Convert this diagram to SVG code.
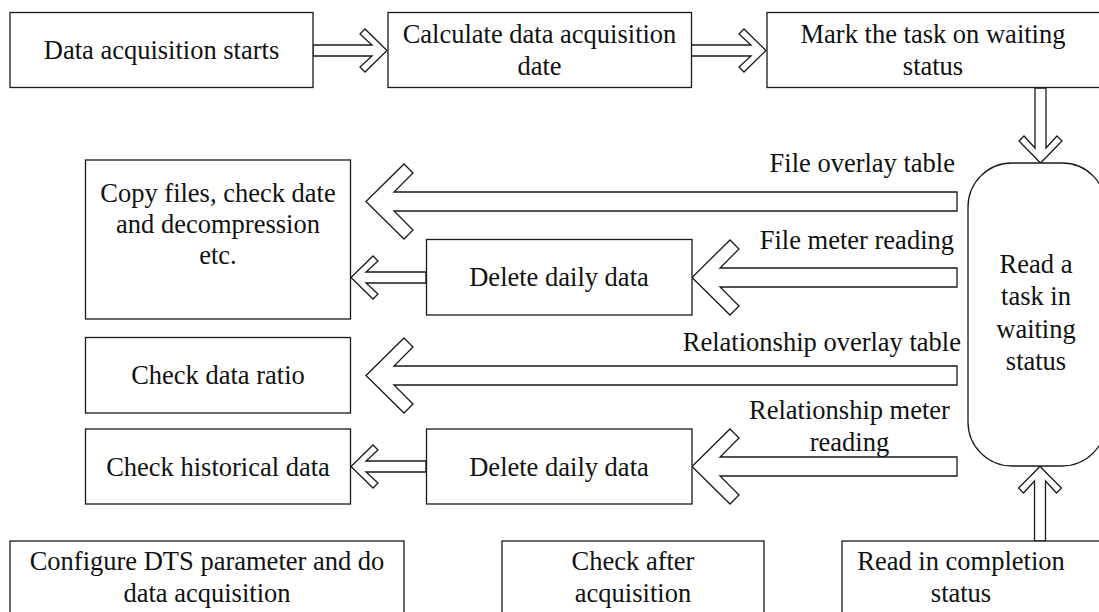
<svg xmlns="http://www.w3.org/2000/svg" width="1099" height="612" viewBox="0 0 1099 612">
  <style>
    .box { fill: #ffffff; stroke: #1a1a1a; stroke-width: 1.3; }
    .arrow { fill: #ffffff; stroke: #1a1a1a; stroke-width: 1.3; stroke-linejoin: miter; }
    text { font-family: "Liberation Serif", "Times New Roman", serif; font-size: 26.5px; fill: #111111; }
    .c { text-anchor: middle; }
    .r { text-anchor: end; }
  </style>
  <rect width="1099" height="612" fill="#ffffff"/>

  <!-- connectors: outlined block arrows -->
  <g id="connectors">
    <polygon class="arrow" points="313,45 372,45 360,34 365,29 387,50.5 365,72 360,67 372,56 313,56"/>
    <polygon class="arrow" points="691,45 751,45 739,34 744,29 766,50.5 744,72 739,67 751,56 691,56"/>
    <polygon class="arrow" points="1035,88 1035,148 1024,136 1019,141 1040.5,163 1062,141 1057,136 1046,148 1046,88"/>
    <polygon class="arrow" points="1034.5,541 1034.5,481 1023.5,493 1018.5,488 1040,466.5 1061.5,488 1056.5,493 1045.5,481 1045.5,541"/>
    <polygon class="arrow" points="957,192 394,192 413,173 404,164 366,201.5 404,239 413,230 394,211 957,211"/>
    <polygon class="arrow" points="957,268 720,268 739,249 730,240 692,277.5 730,315 739,306 720,287 957,287"/>
    <polygon class="arrow" points="957,366 394,366 413,347 404,338 366,375.5 404,413 413,404 394,385 957,385"/>
    <polygon class="arrow" points="957,457 720,457 739,438 730,429 692,466.5 730,504 739,495 720,476 957,476"/>
    <polygon class="arrow" points="426,272 366,272 378,261 373,256 351,277.5 373,299 378,294 366,283 426,283"/>
    <polygon class="arrow" points="426,461 366,461 378,450 373,445 351,466.5 373,488 378,483 366,472 426,472"/>
    <text class="r" x="955" y="172">File overlay table</text>
    <text class="r" x="954" y="249">File meter reading</text>
    <text class="r" x="961" y="351">Relationship overlay table</text>
    <text class="c" x="849.5" y="419">Relationship meter</text>
    <text class="c" x="849.5" y="451">reading</text>
  </g>

  <g id="start">
    <rect class="box" x="10" y="12.5" width="303" height="75"/>
    <text class="c" x="161.5" y="59">Data acquisition starts</text>
  </g>
  <g id="calc-date">
    <rect class="box" x="388" y="12.5" width="303.5" height="75"/>
    <text class="c" x="539.5" y="43">Calculate data acquisition</text>
    <text class="c" x="539.5" y="75">date</text>
  </g>
  <g id="mark-waiting">
    <rect class="box" x="767" y="12.5" width="345" height="75"/>
    <text class="c" x="933" y="43">Mark the task on waiting</text>
    <text class="c" x="933" y="75">status</text>
  </g>
  <g id="read-waiting">
    <rect class="box" x="968" y="163" width="138" height="303" rx="44" ry="44"/>
    <text class="c" x="1036" y="273">Read a</text>
    <text class="c" x="1036" y="305">task in</text>
    <text class="c" x="1036" y="338">waiting</text>
    <text class="c" x="1036" y="370">status</text>
  </g>
  <g id="copy-files">
    <rect class="box" x="85.5" y="160" width="265" height="159"/>
    <text class="c" x="218" y="202">Copy files, check date</text>
    <text class="c" x="218" y="233">and decompression</text>
    <text class="c" x="218" y="264">etc.</text>
  </g>
  <g id="delete-daily-1">
    <rect class="box" x="426.5" y="239.5" width="265.5" height="75.5"/>
    <text class="c" x="559" y="286">Delete daily data</text>
  </g>
  <g id="check-ratio">
    <rect class="box" x="85.5" y="337.5" width="265" height="75.5"/>
    <text class="c" x="218" y="384">Check data ratio</text>
  </g>
  <g id="check-history">
    <rect class="box" x="85.5" y="429" width="265" height="75"/>
    <text class="c" x="218" y="475.5">Check historical data</text>
  </g>
  <g id="delete-daily-2">
    <rect class="box" x="426.5" y="429" width="265.5" height="75"/>
    <text class="c" x="559" y="475.5">Delete daily data</text>
  </g>
  <g id="configure-dts">
    <rect class="box" x="10" y="541" width="394" height="90"/>
    <text class="c" x="207" y="570">Configure DTS parameter and do</text>
    <text class="c" x="207" y="602">data acquisition</text>
  </g>
  <g id="check-after">
    <rect class="box" x="502" y="541" width="262" height="90"/>
    <text class="c" x="633" y="570">Check after</text>
    <text class="c" x="633" y="602">acquisition</text>
  </g>
  <g id="read-completion">
    <rect class="box" x="842" y="541" width="270" height="90"/>
    <text class="c" x="961" y="570">Read in completion</text>
    <text class="c" x="961" y="602">status</text>
  </g>
</svg>
